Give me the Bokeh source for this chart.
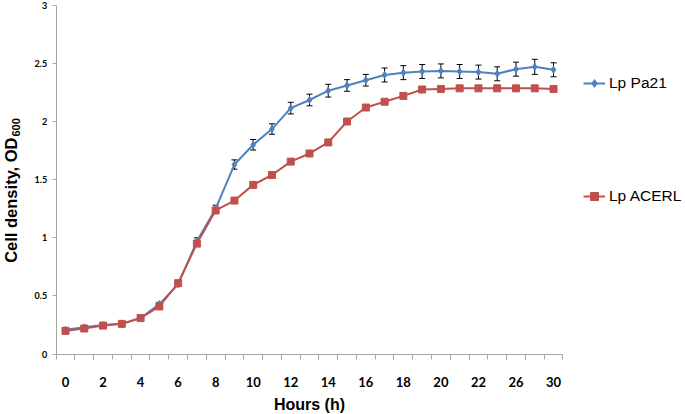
import math
from bokeh.plotting import figure
from bokeh.models import (ColumnDataSource, Whisker, TeeHead, FixedTicker, Legend,
                          LegendItem, NumeralTickFormatter, Range1d, Label)
from bokeh.embed import file_html
from bokeh.resources import INLINE

# ---- data ----
hours = [0, 1, 2, 3, 4, 5, 6, 7, 8, 9, 10, 11, 12, 13, 14, 15, 16, 17, 18, 19,
         20, 21, 22, 24, 26, 28, 30]
pa21 = [0.21, 0.23, 0.25, 0.26, 0.31, 0.43, 0.60, 0.97, 1.25, 1.63, 1.80, 1.935,
        2.115, 2.185, 2.265, 2.31, 2.355, 2.40, 2.42, 2.43, 2.435, 2.43, 2.425,
        2.41, 2.45, 2.47, 2.445]
pa21_err = [0.01, 0.01, 0.01, 0.01, 0.01, 0.015, 0.015, 0.03, 0.03, 0.04, 0.045,
            0.045, 0.05, 0.05, 0.055, 0.05, 0.05, 0.06, 0.06, 0.06, 0.06, 0.06,
            0.06, 0.06, 0.06, 0.065, 0.06]
acerl = [0.20, 0.22, 0.245, 0.26, 0.31, 0.41, 0.61, 0.95, 1.235, 1.32, 1.455, 1.54,
         1.655, 1.725, 1.82, 2.00, 2.12, 2.17, 2.22, 2.275, 2.28, 2.285, 2.285,
         2.285, 2.285, 2.285, 2.28]
labeled_hours = [0, 2, 4, 6, 8, 10, 12, 14, 16, 18, 20, 22, 26, 30]
y_ticks = [0, 0.5, 1, 1.5, 2, 2.5, 3]
series_names = ["Lp Pa21", "Lp ACERL"]
x_title = "Hours (h)"
y_title = "Cell density, OD"
y_title_sub = "600"

BLUE = "#4F81BD"
RED = "#C0504D"
AXIS = "#A6A6A6"

# ---- layout constants (pixels on the canvas) ----
W, H = 685, 414
CAT_PX = 18.77      # width of one category slot
X0_PX = 65.0        # canvas x of the first category centre
Y0_PX = 353.6       # canvas y (from top) of value 0
UNIT_PX = 116.3     # pixels per 1.0 OD


def up(y_from_top):
    return H - y_from_top


pos = list(range(len(hours)))
src = ColumnDataSource(dict(
    x=pos, pa21=pa21, acerl=acerl,
    upper=[v + e for v, e in zip(pa21, pa21_err)],
    lower=[v - e for v, e in zip(pa21, pa21_err)],
))

p = figure(width=W, height=H, output_backend="svg", toolbar_location=None,
           x_range=Range1d(-X0_PX / CAT_PX, (W - X0_PX) / CAT_PX),
           y_range=Range1d((Y0_PX - H) / UNIT_PX, Y0_PX / UNIT_PX),
           min_border=0)
p.outline_line_color = None
p.grid.visible = False
p.background_fill_color = "white"

# lines and markers
lb = p.line("x", "pa21", source=src, line_color=BLUE, line_width=2)
mb = p.scatter("x", "pa21", source=src, marker="diamond", size=7,
               fill_color=BLUE, line_color=BLUE)
lr = p.line("x", "acerl", source=src, line_color=RED, line_width=2)
mr = p.scatter("x", "acerl", source=src, marker="square", size=7,
               fill_color=RED, line_color=RED)

wh = Whisker(base="x", upper="upper", lower="lower", source=src,
             line_color="black", line_width=1,
             upper_head=TeeHead(size=6, line_color="black", line_width=1),
             lower_head=TeeHead(size=6, line_color="black", line_width=1))
p.add_layout(wh)

# x axis
label_pos = [hours.index(h) for h in labeled_hours]
xa = p.xaxis[0]
xa.fixed_location = 0
xa.bounds = (-0.5, len(hours) - 0.5)
xa.ticker = FixedTicker(ticks=label_pos,
                        minor_ticks=[i - 0.5 for i in range(len(hours) + 1)])
xa.major_label_overrides = {i: str(hours[i]) for i in label_pos}
xa.major_tick_out = 0
xa.major_tick_in = 0
xa.minor_tick_out = 5
xa.minor_tick_in = 0
xa.minor_tick_line_color = AXIS
xa.axis_line_color = AXIS
xa.major_label_standoff = 18
xa.major_label_text_font = "Lato"
xa.major_label_text_font_style = "bold"
xa.major_label_text_font_size = "13px"
xa.major_label_text_color = "black"

# y axis
ya = p.yaxis[0]
ya.fixed_location = -0.5
ya.bounds = (0, 3)
ya.ticker = FixedTicker(ticks=y_ticks)
ya.formatter = NumeralTickFormatter(format="0.[0]")
ya.major_tick_out = 4
ya.major_tick_in = 0
ya.minor_tick_out = 0
ya.minor_tick_in = 0
ya.major_tick_line_color = AXIS
ya.axis_line_color = AXIS
ya.major_label_standoff = 5
ya.major_label_text_font = "Lato"
ya.major_label_text_font_style = "bold"
ya.major_label_text_font_size = "9px"
ya.major_label_text_color = "black"

# axis titles
p.add_layout(Label(x=309, y=up(412), x_units="screen", y_units="screen",
                   text=x_title, text_align="center", text_baseline="bottom",
                   text_font="Liberation Sans", text_font_style="bold",
                   text_font_size="16px", text_color="black"))
p.add_layout(Label(x=10, y=up(137), x_units="screen", y_units="screen",
                   text=y_title, angle=math.pi / 2, text_align="right",
                   text_baseline="middle", text_font="Liberation Sans",
                   text_font_style="bold", text_font_size="16.5px",
                   text_color="black"))
p.add_layout(Label(x=15, y=up(136), x_units="screen", y_units="screen",
                   text=y_title_sub, angle=math.pi / 2, text_align="left",
                   text_baseline="middle", text_font="Liberation Sans",
                   text_font_style="bold", text_font_size="11px",
                   text_color="black"))

legend = Legend(items=[LegendItem(label=series_names[0], renderers=[lb, mb]),
                       LegendItem(label=series_names[1], renderers=[lr, mr])],
                location=(583, up(206)), orientation="vertical", spacing=93,
                padding=0, margin=0, border_line_alpha=0,
                background_fill_alpha=0, glyph_width=22, glyph_height=20,
                label_height=20, label_standoff=4,
                label_text_font="Liberation Sans", label_text_font_size="15.5px",
                label_text_color="black")
p.add_layout(legend)

open("out.html", "w").write(file_html(p, INLINE))
